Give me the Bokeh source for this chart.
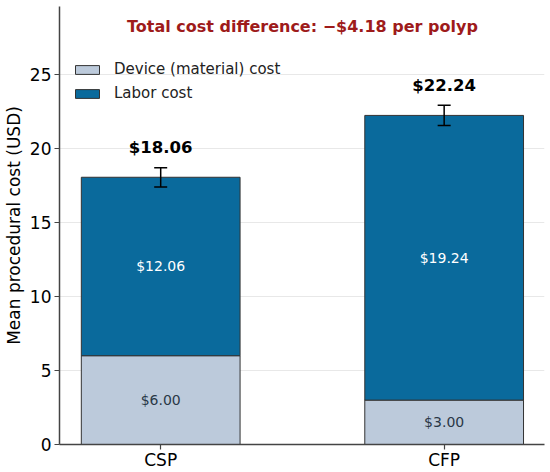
from bokeh.plotting import figure
from bokeh.models import ColumnDataSource, Whisker, TeeHead, Legend, LegendItem, FixedTicker
from bokeh.core.properties import value
from bokeh.embed import file_html
from bokeh.resources import INLINE

groups = ["CSP", "CFP"]
device_cost = [6.00, 3.00]
labor_cost = [12.06, 19.24]
total_cost = [18.06, 22.24]
error = [0.65, 0.68]
title_text = "Total cost difference: \u2212$4.18 per polyp"
legend_labels = ["Device (material) cost", "Labor cost"]

FONT = "DejaVu Sans"
LABOR = "#0a6a9c"
DEVICE = "#bccadb"
EDGE = "#333333"

xs = list(range(len(groups)))
src = ColumnDataSource(dict(
    x=xs,
    device=device_cost,
    labor=labor_cost,
    total=total_cost,
    upper=[t + e for t, e in zip(total_cost, error)],
    lower=[t - e for t, e in zip(total_cost, error)],
    dev_mid=[d / 2 for d in device_cost],
    lab_mid=[d + l / 2 for d, l in zip(device_cost, labor_cost)],
    dev_lbl=["$%.2f" % v for v in device_cost],
    lab_lbl=["$%.2f" % v for v in labor_cost],
    tot_lbl=["$%.2f" % v for v in total_cost],
    tot_y=[t + 2.0 for t in total_cost],
))

p = figure(width=550, height=472, output_backend="svg", toolbar_location=None,
           x_range=(-0.357, 1.354), y_range=(0, 29.6),
           min_border_left=58, min_border_right=6, min_border_top=6, min_border_bottom=28)
p.outline_line_color = None
p.background_fill_color = "white"

r_dev = p.vbar(x="x", width=0.56, bottom=0, top="device", source=src,
               fill_color=DEVICE, line_color=EDGE, line_width=1)
r_lab = p.vbar(x="x", width=0.56, bottom="device", top="total", source=src,
               fill_color=LABOR, line_color=EDGE, line_width=1)

w = Whisker(base="x", upper="upper", lower="lower", source=src,
            line_color="black", line_width=1.5, level="overlay",
            upper_head=TeeHead(size=13, line_color="black", line_width=1.5),
            lower_head=TeeHead(size=13, line_color="black", line_width=1.5))
p.add_layout(w)

p.text(x="x", y="dev_mid", text="dev_lbl", source=src, text_font=value(FONT),
       text_font_size="14px", text_color="#2a3847", text_align="center",
       text_baseline="middle")
p.text(x="x", y="lab_mid", text="lab_lbl", source=src, text_font=value(FONT),
       text_font_size="14px", text_color="white", text_align="center",
       text_baseline="middle")
p.text(x="x", y="tot_y", text="tot_lbl", source=src, text_font=value(FONT),
       text_font_size="16.5px", text_font_style="bold", text_color="black",
       text_align="center", text_baseline="middle")
p.text(x=[0.5], y=[28.26], text=[title_text], text_font=value(FONT),
       text_font_size="16px", text_font_style="bold", text_color="#9e1b1b",
       text_align="center", text_baseline="middle")

legend = Legend(items=[LegendItem(label=legend_labels[0], renderers=[r_dev]),
                       LegendItem(label=legend_labels[1], renderers=[r_lab])],
                location=(13, 342), padding=0, spacing=6,
                glyph_width=30, glyph_height=11, label_height=17,
                label_standoff=12, label_text_font=FONT, label_text_font_size="15px",
                label_text_color="#222222",
                border_line_alpha=0, background_fill_alpha=0)
p.add_layout(legend)

p.xgrid.grid_line_color = None
p.ygrid.grid_line_color = "#e8e8e8"
p.ygrid.grid_line_width = 1

p.xaxis.ticker = FixedTicker(ticks=xs)
p.xaxis.major_label_overrides = {i: g for i, g in zip(xs, groups)}
p.yaxis.ticker = FixedTicker(ticks=[0, 5, 10, 15, 20, 25])
p.yaxis.axis_label = "Mean procedural cost (USD)"

for ax in (p.xaxis[0], p.yaxis[0]):
    ax.axis_line_color = "#444444"
    ax.axis_line_width = 1.5
    ax.major_tick_line_color = "#444444"
    ax.major_tick_line_width = 1.2
    ax.major_tick_out = 5
    ax.major_tick_in = 0
    ax.minor_tick_line_color = None
    ax.major_label_text_font = FONT
    ax.major_label_text_font_size = "17px"
    ax.major_label_text_color = "black"
    ax.major_label_standoff = 3
    ax.axis_label_text_font = FONT
    ax.axis_label_text_font_size = "17px"
    ax.axis_label_text_font_style = "normal"
    ax.axis_label_text_color = "black"
    ax.axis_label_standoff = 3
p.xaxis.major_label_standoff = 0

open("out.html", "w").write(file_html(p, INLINE))
